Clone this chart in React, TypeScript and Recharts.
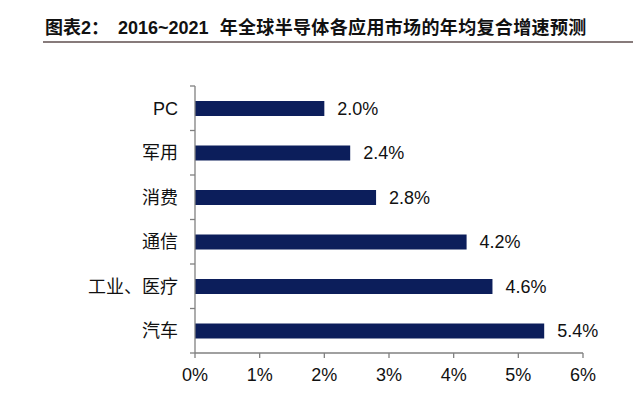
import { BarChart, Bar, XAxis, YAxis, LabelList } from "recharts";

const categories = ["PC", "军用", "消费", "通信", "工业、医疗", "汽车"];
const growth = [2.0, 2.4, 2.8, 4.2, 4.6, 5.4];
const xTicks = [0, 1, 2, 3, 4, 5, 6];

const data = categories.map((name, i) => ({ name, value: growth[i] }));

const FONT = "'Liberation Sans', Arial, 'Noto Sans CJK SC', sans-serif";
const AXIS = "#808080";

const CategoryTick = (props: any) => {
  const { x, y, payload, index, height, visibleTicksCount } = props;
  const half = payload.offset ?? height / visibleTicksCount / 2;
  return (
    <g>
      <text x={x - 17} y={y} dy="0.36em" textAnchor="end" fontSize={18} fill="#111" fontFamily={FONT}>
        {payload.value}
      </text>
      <line x1={x - 5} x2={x} y1={y - half} y2={y - half} stroke={AXIS} strokeWidth={1.3} />
      {index === visibleTicksCount - 1 && (
        <line x1={x - 5} x2={x} y1={y + half} y2={y + half} stroke={AXIS} strokeWidth={1.3} />
      )}
    </g>
  );
};

const App = () => {
  return (
    <div style={{ position: "absolute", left: 0, top: 0, width: 640, height: 393, background: "#fff" }}>
      <div
        style={{
          position: "absolute",
          left: 45,
          top: 19,
          fontFamily: FONT,
          fontWeight: "bold",
          fontSize: 18,
          lineHeight: "18px",
          color: "#111",
          whiteSpace: "pre",
        }}
      >
        <span>图表2：</span>
        <span style={{ marginLeft: 9 }}>2016~2021</span>
        <span style={{ marginLeft: 11, letterSpacing: 0.35 }}>年全球半导体各应用市场的年均复合增速预测</span>
      </div>
      <div style={{ position: "absolute", left: 43, top: 41, width: 590, height: 2, background: "#877b7b" }} />
      <BarChart
        width={640}
        height={393}
        data={data}
        layout="vertical"
        margin={{ top: 86, right: 57, bottom: 0, left: 0 }}
      >
        <XAxis
          type="number"
          domain={[0, 6]}
          ticks={xTicks}
          tickFormatter={(v: number) => `${v}%`}
          height={40}
          tickSize={5}
          tickMargin={10}
          stroke={AXIS}
          strokeWidth={1.3}
          tick={{ fontSize: 18, fill: "#111", fontFamily: FONT }}
        />
        <YAxis
          type="category"
          dataKey="name"
          width={195}
          tickLine={false}
          tickSize={0}
          tickMargin={0}
          stroke={AXIS}
          strokeWidth={1.3}
          interval={0}
          tick={<CategoryTick />}
        />
        <Bar dataKey="value" fill="#0c1e5b" barSize={15} isAnimationActive={false}>
          <LabelList
            dataKey="value"
            position="right"
            offset={13}
            formatter={(v: number) => `${v.toFixed(1)}%`}
            style={{ fontSize: 18, fill: "#111", fontFamily: FONT }}
          />
        </Bar>
      </BarChart>
    </div>
  );
};

export default App;
